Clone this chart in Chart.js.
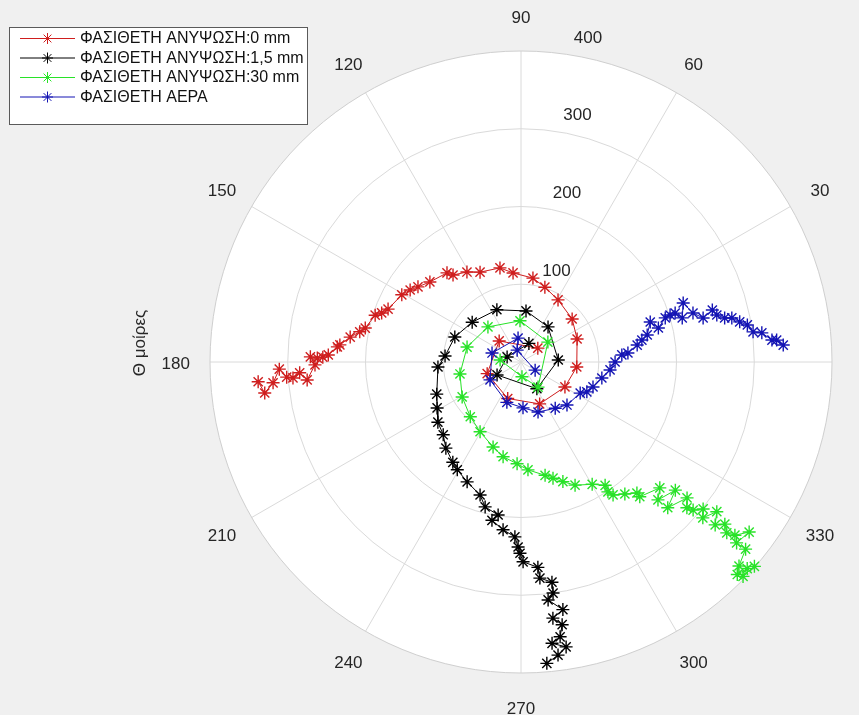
<!DOCTYPE html>
<html>
<head>
<meta charset="utf-8">
<script src="https://cdn.jsdelivr.net/npm/chart.js@4.4.1/dist/chart.umd.min.js"></script>
<style>
  html, body { margin: 0; padding: 0; background: #f0f0f0; }
  #wrap { width: 859px; height: 715px; position: relative; }
</style>
</head>
<body>
<div id="wrap"><canvas id="c" width="859" height="715"></canvas></div>
<script>
// ---- data: angle in degrees, radius in plot units ----
const seriesNames = [
  'ΦΑΣΙΘΕΤΗ ΑΝΥΨΩΣΗ:0 mm',
  'ΦΑΣΙΘΕΤΗ ΑΝΥΨΩΣΗ:1,5 mm',
  'ΦΑΣΙΘΕΤΗ ΑΝΥΨΩΣΗ:30 mm',
  'ΦΑΣΙΘΕΤΗ ΑΕΡΑ'
];

const redTheta = [39.5, 136, 199, 250, 294, 330.4, 354.9, 22.3, 40.1, 59.2, 72.3, 81.9, 95.1, 102.6, 114.5, 121, 128, 129.7, 138.7, 143.9, 147, 150.6, 158.3, 160.6, 162.2, 167.7, 169.4, 171.7, 174.6, 175.3, 177.9, 178.6, 178.9, 178.6, 180.8, 184.8, 182.8, 184, 183.7, 181.7, 184.8, 186.9, 184.3];
const redR     = [28, 39, 46, 50, 59, 65, 72, 78, 86, 93, 101, 109, 115, 124, 127, 135, 142, 149, 156, 164, 170, 176, 184, 190, 197, 205, 211, 222, 234, 237, 248, 255, 262, 271, 265, 276, 285, 294, 302, 311, 320, 332, 339];

const blackTheta = [67, 160, 208.4, 300.7, 3.1, 52.4, 84.4, 114.8, 140.8, 159.3, 175.5, 183.4, 200.9, 208.7, 215.9, 223.1, 228.9, 235.8, 239.4, 245.8, 252.9, 256.1, 261.5, 259.6, 263.9, 268, 269.1, 269.7, 270.6, 274.7, 275, 278, 277.9, 276.5, 279.6, 277.1, 278.9, 278.1, 276.3, 279, 277.2, 274.9];
const blackR     = [26, 19, 35, 40, 48, 57, 66, 74, 81, 91, 98, 107, 116, 123, 132, 137, 147, 156, 161, 169, 179, 192, 199, 207, 217, 225, 238, 246, 257, 265, 279, 286, 300, 308, 323, 332, 342, 357, 364, 371, 380, 389];

const greenTheta = [174.6, 273.8, 304.2, 36.5, 91.4, 133.3, 164.5, 191.1, 210.7, 227.2, 239.6, 251.8, 259.3, 267.8, 273.7, 282, 285.4, 289.3, 293.7, 300.2, 304.3, 303.8, 304.7, 308.2, 311.5, 311.4, 317.8, 314.8, 320.3, 315.2, 320.7, 318.7, 319.3, 321.1, 319.4, 322.6, 320, 321.5, 320.3, 321, 323.3, 320, 320.2, 316.9, 315.5, 317.6, 316, 318.8];
const greenR     = [27, 19, 39, 43, 53, 62, 72, 80, 88, 96, 104, 115, 124, 131, 139, 149, 155, 163, 173, 182, 192, 201, 208, 216, 225, 231, 241, 250, 258, 266, 276, 284, 292, 301, 308, 317, 326, 335, 344, 354, 366, 362, 376, 384, 390, 394, 397, 399];

const blueTheta = [330, 108, 97, 162.8, 210, 250.7, 272.5, 288.8, 306.5, 316.9, 332.3, 335.6, 340.9, 348.8, 354.9, 0, 4, 4.8, 8.3, 10.3, 12.1, 17.2, 13.9, 17, 17.5, 17.6, 15.3, 20, 15.9, 13.6, 15.2, 13.5, 12.2, 11.8, 10.4, 9.3, 7.4, 6.9, 5, 4.9, 3.7];
const blueR     = [21, 16, 31, 39, 46, 55, 59, 68, 74, 81, 86, 93, 98, 106, 115, 121, 130, 138, 151, 158, 166, 174, 182, 194, 201, 208, 215, 222, 230, 241, 255, 259, 268, 277, 286, 295, 301, 312, 324, 330, 338];

const radialTicks = [100, 200, 300, 400];
const angleTicks  = [0, 30, 60, 90, 120, 150, 180, 210, 240, 270, 300, 330];
const yAxisTitle  = 'Θ μοίρες';

// ---- layout ----
const W = 859, H = 715;
const CX = 521, CY = 362;          // pole position in pixels
const R_MAX = radialTicks[radialTicks.length - 1];
const PX_PER_UNIT = 311 / R_MAX;
const colors = ['#cf1e1e', '#000000', '#28e228', '#1414b4'];
const FONT = '"Liberation Sans", Arial, sans-serif';
const MARK_R = 6.5;

function toXY(theta, r) {
  return theta.map((t, i) => {
    const a = t * Math.PI / 180;
    return { x: r[i] * Math.cos(a), y: r[i] * Math.sin(a) };
  });
}

const polarFrame = {
  id: 'polarFrame',
  beforeDraw(chart) {
    const ctx = chart.ctx;
    ctx.save();
    ctx.fillStyle = '#f0f0f0';
    ctx.fillRect(0, 0, chart.width, chart.height);
    ctx.restore();
  },
  beforeDatasetsDraw(chart) {
    const ctx = chart.ctx;
    const xs = chart.scales.x, ys = chart.scales.y;
    const cx = xs.getPixelForValue(0), cy = ys.getPixelForValue(0);
    const rp = v => xs.getPixelForValue(v) - cx;
    const R = rp(R_MAX);
    ctx.save();
    // white disk
    ctx.beginPath();
    ctx.arc(cx, cy, R, 0, Math.PI * 2);
    ctx.fillStyle = '#ffffff';
    ctx.fill();
    // spokes
    ctx.strokeStyle = '#dadada';
    ctx.lineWidth = 1;
    angleTicks.forEach(a => {
      const rad = a * Math.PI / 180;
      ctx.beginPath();
      ctx.moveTo(cx, cy);
      ctx.lineTo(cx + R * Math.cos(rad), cy - R * Math.sin(rad));
      ctx.stroke();
    });
    // rings
    radialTicks.forEach((v, i) => {
      ctx.beginPath();
      ctx.arc(cx, cy, rp(v), 0, Math.PI * 2);
      ctx.strokeStyle = i === radialTicks.length - 1 ? '#cfcfcf' : '#dadada';
      ctx.stroke();
    });
    // angle labels (the 0 label falls past the right edge of the canvas)
    ctx.fillStyle = '#262626';
    ctx.font = '17px ' + FONT;
    ctx.textAlign = 'center';
    ctx.textBaseline = 'middle';
    angleTicks.forEach(a => {
      const rad = a * Math.PI / 180;
      const rr = R * 1.11;
      ctx.fillText(String(a), cx + rr * Math.cos(rad), cy + 2 - rr * Math.sin(rad));
    });
    // radial labels
    radialTicks.forEach(v => {
      const r = rp(v);
      ctx.fillText(String(v), cx + 25 + r * 0.135, cy - r - 13);
    });
    ctx.restore();
  },
  afterDatasetsDraw(chart) {
    const ctx = chart.ctx;
    ctx.save();
    // y axis title
    ctx.translate(140, 343);
    ctx.rotate(-Math.PI / 2);
    ctx.fillStyle = '#262626';
    ctx.font = '17px ' + FONT;
    ctx.textAlign = 'center';
    ctx.textBaseline = 'middle';
    ctx.fillText(yAxisTitle, 0, 0);
    ctx.restore();

    // legend
    ctx.save();
    const bx = 9.5, by = 27.5, bw = 298, bh = 97;
    ctx.fillStyle = '#ffffff';
    ctx.fillRect(bx, by, bw, bh);
    ctx.strokeStyle = '#5a5a5a';
    ctx.lineWidth = 1;
    ctx.strokeRect(bx, by, bw, bh);
    ctx.font = '16px ' + FONT;
    ctx.textAlign = 'left';
    ctx.textBaseline = 'middle';
    chart.data.datasets.forEach((ds, i) => {
      const y = 38.5 + i * 19.5;
      ctx.strokeStyle = ds.borderColor;
      ctx.lineWidth = 1;
      ctx.beginPath();
      ctx.moveTo(20, y);
      ctx.lineTo(75, y);
      ctx.stroke();
      Chart.helpers.drawPoint(ctx, {
        pointStyle: 'star', radius: MARK_R - 1, rotation: 0, borderWidth: 1.3
      }, 47.5, y);
      ctx.fillStyle = '#111111';
      ctx.fillText(ds.label, 80, y + 0.5);
    });
    ctx.restore();
  }
};

const thetas = [redTheta, blackTheta, greenTheta, blueTheta];
const radii  = [redR, blackR, greenR, blueR];

const datasets = seriesNames.map((name, i) => ({
  label: name,
  data: toXY(thetas[i], radii[i]),
  showLine: true,
  borderColor: colors[i],
  backgroundColor: colors[i],
  borderWidth: 1,
  pointStyle: 'star',
  pointRadius: MARK_R,
  pointBorderWidth: 1.4,
  pointBorderColor: colors[i],
  tension: 0,
  order: 4 - i
}));

new Chart(document.getElementById('c'), {
  type: 'scatter',
  data: { datasets },
  options: {
    responsive: false,
    animation: false,
    devicePixelRatio: 1,
    layout: { padding: 0, autoPadding: false },
    plugins: { legend: { display: false }, tooltip: { enabled: false } },
    scales: {
      x: { type: 'linear', display: false, min: -CX / PX_PER_UNIT, max: (W - CX) / PX_PER_UNIT },
      y: { type: 'linear', display: false, min: -(H - CY) / PX_PER_UNIT, max: CY / PX_PER_UNIT }
    }
  },
  plugins: [polarFrame]
});
</script>
</body>
</html>
